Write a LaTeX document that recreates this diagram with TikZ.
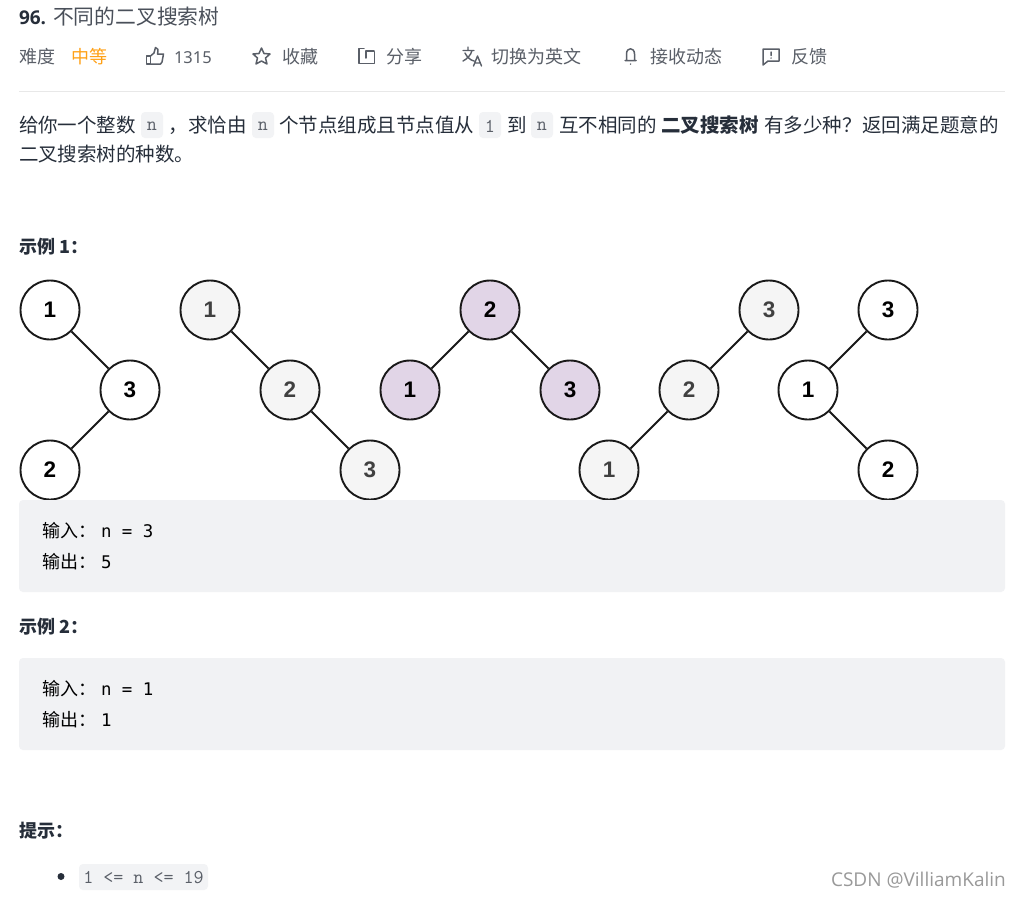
\documentclass[tikz,border=0pt]{standalone}
\usepackage{fontspec}
\setmainfont{Noto Sans CJK SC}
\newfontfamily\latinf{Noto Sans}
\newfontfamily\codef{Latin Modern Mono}
\newfontfamily\blockf{DejaVu Sans Mono}
\newfontfamily\markf{Open Sans}
\newfontfamily\nodef{Liberation Sans}
\definecolor{ink}{HTML}{262E3A}
\definecolor{soft}{HTML}{5A5F68}
\definecolor{boxg}{HTML}{F1F2F4}
\definecolor{codeg}{HTML}{F2F3F5}
\definecolor{lineg}{HTML}{E8E8E8}
\definecolor{nodeg}{HTML}{F5F5F5}
\definecolor{nodep}{HTML}{E1D5E7}
\definecolor{oran}{HTML}{FFA116}
\newcommand{\fs}[1]{\fontsize{#1}{#1}\selectfont}
\newcommand{\blockcode}[1]{\hspace{5pt}{\blockf\fs{17.4}#1}}
\tikzset{
  x=1pt,y=-1pt,
  tx/.style={inner sep=0pt,outer sep=0pt,anchor=base west,text=ink,font=\fs{19.5}},
  meta/.style={tx,text=soft,font=\fs{18}},
  head/.style={tx,font=\fs{18}\bfseries},
  blk/.style={tx,text=black,font=\fs{18}},
  chip/.style={fill=codeg,rounded corners=4pt,draw=none},
  code/.style={inner sep=0pt,text=soft,font=\codef\fs{19.5}},
  tn/.style={circle,draw=black!90,line width=1.9pt,minimum size=59pt,inner sep=0pt,font=\nodef\bfseries\fs{22.5},text=black},
  tg/.style={tn,fill=nodeg,text=black!75},
  tw/.style={tn,fill=white},
  tp/.style={tn,fill=nodep},
  ed/.style={line width=1.9pt,draw=black!90},
  ic/.style={draw=soft,line width=1.5pt,line join=round,line cap=round},
}
\begin{document}
\begin{tikzpicture}
\useasboundingbox (0,0) rectangle (1022,897);
\fill[white] (0,0) rectangle (1022,897);
% header
\node[tx,font=\markf\bfseries\fs{19},text=ink] (num) at (19,24) {96.};
\node[tx,font=\fs{20.8},text=soft!70!ink] (title) at (53,24) {不同的二叉搜索树};
\node[meta] (diff) at (19,63) {难度};
\node[meta,text=oran] (lev) at (71,63) {中等};
\node[meta,font=\latinf\fs{16.5}] (likes) at (174,63) {1315};
\node[meta] (fav) at (282,63) {收藏};
\node[meta] (share) at (386,63) {分享};
\node[meta] (lang) at (491,63) {切换为英文};
\node[meta] (sub) at (650,63) {接收动态};
\node[meta] (fb) at (791,63) {反馈};
% icons
\draw[ic] (146.5,56) -- (146.5,64) -- (150.5,64) -- (150.5,56) -- cycle;
\draw[ic] (150.5,56) -- (154,53) -- (155.5,47.5) .. controls (158,47.5) and (158.5,50) .. (157.5,54) -- (163.5,54) -- (162,62) -- (160.5,64) -- (150.5,64);
\draw[ic] (261.5,48) -- (264,53.5) -- (270,54) -- (265.5,58) -- (267,64) -- (261.5,61) -- (256,64) -- (257.5,58) -- (253,54) -- (259,53.5) -- cycle;
\draw[ic] (364,48.5) -- (359,48.5) -- (359,63.5) -- (374.5,63.5) -- (374.5,52) (366,58) -- (366,51) -- (374,51);
\draw[ic,line width=1.4pt] (463,50.5) -- (474,50.5) (468,47) -- (468,50.5) (472,50.5) .. controls (471,55) and (467,59) .. (463,61) (465,53) .. controls (467,57) and (470,60) .. (474,61) (473.5,66) -- (477.5,56) -- (481.5,66) (475,63) -- (480,63);
\draw[ic] (625,60.5) -- (636,60.5) (626.5,60) -- (626.5,54) .. controls (626.5,47) and (634.5,47) .. (634.5,54) -- (634.5,60) (630.5,64) -- (630.5,64.2);
\draw[ic] (763,49) -- (779,49) -- (779,61) -- (768,61) -- (763,65) -- cycle (771,52) -- (771,55.5) (771,58) -- (771,58.2);
\draw[lineg,line width=1pt] (19,91.5) -- (1005,91.5);
% paragraph
\fill[chip] (141,112) rectangle (163,138);
\fill[chip] (252,112) rectangle (274,138);
\fill[chip] (479,112) rectangle (501,138);
\fill[chip] (531,112) rectangle (553,138);
\node[tx] (p1) at (19,132) {给你一个整数};
\node[code] (c1) at (152,126) {n};
\node[tx] (p2) at (168,132) {，};
\node[tx] (p3) at (188,132) {求恰由};
\node[code] (c2) at (263,126) {n};
\node[tx] (p4) at (279,132) {个节点组成且节点值从};
\node[code] (c3) at (490,126) {1};
\node[tx] (p5) at (507,132) {到};
\node[code] (c4) at (542,126) {n};
\node[tx] (p6) at (559,132) {互不相同的};
\node[tx,font=\fs{19.5}\bfseries] (p7) at (661,132) {二叉搜索树};
\node[tx] (p8) at (764,132) {有多少种？};
\node[tx] (p9) at (862,132) {返回满足题意的};
\node[tx] (p10) at (19,161) {二叉搜索树的种数。};
% example 1
\node[head] (ex1) at (19,253) {示例 1：};
\node[tw] (a1) at (50,310) {1};
\node[tw] (a3) at (130,390) {3};
\node[tw] (a2) at (50,470) {2};
\draw[ed] (a1) -- (a3);
\draw[ed] (a3) -- (a2);
\node[tg] (b1) at (210,310) {1};
\node[tg] (b2) at (290,390) {2};
\node[tg] (b3) at (370,470) {3};
\draw[ed] (b1) -- (b2);
\draw[ed] (b2) -- (b3);
\node[tp] (c2n) at (490,310) {2};
\node[tp] (c1n) at (410,390) {1};
\node[tp] (c3n) at (570,390) {3};
\draw[ed] (c2n) -- (c1n);
\draw[ed] (c2n) -- (c3n);
\node[tg] (d3) at (769,310) {3};
\node[tg] (d2) at (689,390) {2};
\node[tg] (d1) at (609,470) {1};
\draw[ed] (d3) -- (d2);
\draw[ed] (d2) -- (d1);
\node[tw] (e3) at (888,310) {3};
\node[tw] (e1) at (808,390) {1};
\node[tw] (e2) at (888,470) {2};
\draw[ed] (e3) -- (e1);
\draw[ed] (e1) -- (e2);
% code blocks
\fill[boxg,rounded corners=4pt] (19,500) rectangle (1005,592);
\node[blk] (i1) at (42,537) {输入：\blockcode{n = 3}};
\node[blk] (o1) at (42,568) {输出：\blockcode{5}};
\node[head] (ex2) at (19,633) {示例 2：};
\fill[boxg,rounded corners=4pt] (19,658) rectangle (1005,750);
\node[blk] (i2) at (42,695) {输入：\blockcode{n = 1}};
\node[blk] (o2) at (42,726) {输出：\blockcode{1}};
% hint
\node[head] (hint) at (19,837) {提示：};
\fill[ink] (61,876.5) circle (3.5);
\fill[chip] (79,864) rectangle (208,890);
\node[code] (c5) at (143.5,877.5) {1 <= n <= 19};
\node[tx,font=\markf\fs{19},text=black!40] (wm) at (831,886) {CSDN @VilliamKalin};
\end{tikzpicture}
\end{document}
